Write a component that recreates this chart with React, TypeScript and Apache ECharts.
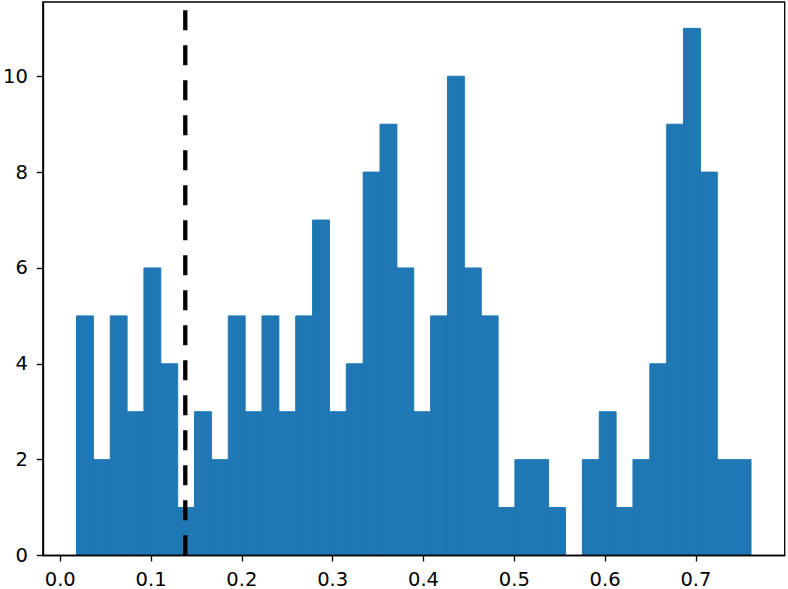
import React, { useEffect, useRef } from "react";
import * as echarts from "echarts";

const counts = [5, 2, 5, 3, 6, 4, 1, 3, 2, 5, 3, 5, 3, 5, 7, 3, 4, 8, 9, 6, 3, 5, 10, 6, 5, 1, 2, 2, 1, 0, 2, 3, 1, 2, 4, 9, 11, 8, 2, 2];
const binStart = 0.0179;
const binWidth = 0.01857;
const xTicks = [0, 0.1, 0.2, 0.3, 0.4, 0.5, 0.6, 0.7];
const yTicks = [0, 2, 4, 6, 8, 10];
const xMin = -0.0192;
const xMax = 0.7978;
const yMax = 11.55;
const markerX = 0.1377;
const markerTop = 11.38;

export default function App() {
  const ref = useRef<HTMLDivElement>(null);
  useEffect(() => {
    document.body.style.margin = "0";
    const chart = echarts.init(ref.current!, null, { renderer: "svg" });
    const bins = counts.map((c, i) => [binStart + i * binWidth, binStart + (i + 1) * binWidth, c]);
    const font = "DejaVu Sans";
    chart.setOption({
      animation: false,
      grid: { left: 41, right: 3.3, top: 2, bottom: 33.3, show: true, borderColor: "#000", borderWidth: 1.3, z: 10 },
      xAxis: {
        type: "value",
        min: xMin,
        max: xMax,
        z: 10,
        splitLine: { show: false },
        axisLine: { show: true, onZero: false, lineStyle: { color: "#000", width: 1.3 } },
        axisTick: { show: true, customValues: xTicks, length: 6, lineStyle: { color: "#000", width: 1.3 } },
        axisLabel: {
          customValues: xTicks,
          color: "#000",
          fontFamily: font,
          fontSize: 19.5,
          margin: 13.5,
          formatter: (v: number) => v.toFixed(1),
        },
      },
      yAxis: {
        type: "value",
        min: 0,
        max: yMax,
        z: 10,
        splitLine: { show: false },
        axisLine: { show: true, onZero: false, lineStyle: { color: "#000", width: 1.3 } },
        axisTick: { show: true, customValues: yTicks, length: 6, lineStyle: { color: "#000", width: 1.3 } },
        axisLabel: {
          customValues: yTicks,
          color: "#000",
          fontFamily: font,
          fontSize: 19.5,
          margin: 15,
          formatter: (v: number) => String(v),
        },
      },
      series: [
        {
          type: "custom",
          data: bins,
          encode: { x: [0, 1], y: 2 },
          renderItem: (params: any, api: any) => {
            const p0 = api.coord([api.value(0), api.value(2)]);
            const p1 = api.coord([api.value(1), 0]);
            return {
              type: "rect",
              shape: { x: p0[0], y: p0[1], width: p1[0] - p0[0], height: p1[1] - p0[1] },
              style: { fill: "#1f77b4", stroke: "#1f77b4", lineWidth: 1 },
            };
          },
          z: 2,
        },
        {
          type: "line",
          data: [
            [markerX, markerTop],
            [markerX, 0],
          ],
          symbol: "none",
          lineStyle: { color: "#000", width: 4.3, type: [20, 15], cap: "butt" },
          z: 5,
        },
      ],
    });
    return () => chart.dispose();
  }, []);
  return <div ref={ref} style={{ width: 788, height: 589 }} />;
}
